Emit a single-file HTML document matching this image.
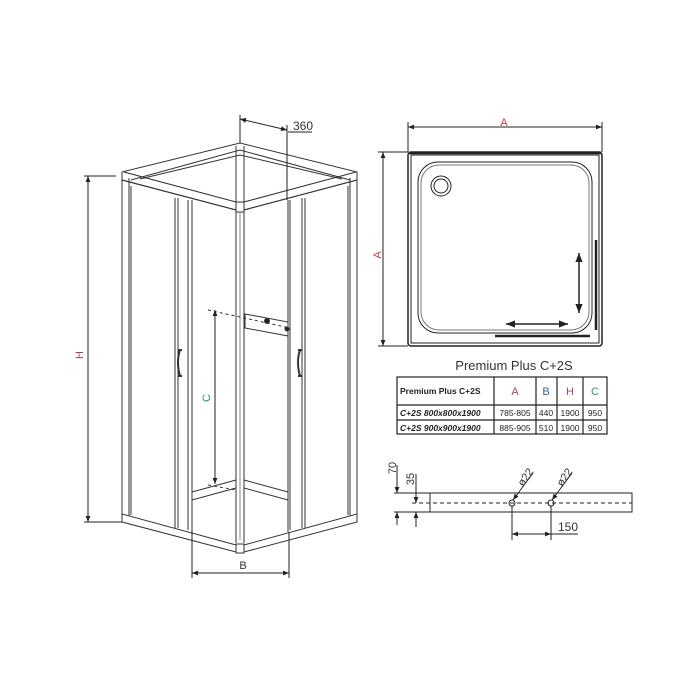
<!DOCTYPE html>
<html><head><meta charset="utf-8"><style>
html,body{margin:0;padding:0;background:#fff;}
svg{display:block;font-family:"Liberation Sans",sans-serif;}
</style></head><body>
<svg width="700" height="700" viewBox="0 0 700 700" xmlns="http://www.w3.org/2000/svg">
<defs>
<marker id="ar" viewBox="0 0 10 10" refX="10" refY="5" markerWidth="8" markerHeight="6" orient="auto-start-reverse"><path d="M0,1 L10,5 L0,9 z" fill="#222"/></marker>
</defs>
<g stroke="#333" stroke-width="1" fill="none">
<!-- top frame -->
<polygon points="240,143 357,172 357,180 240,211 122,180 122,172" fill="#fff"/>
<polyline points="131,180 240,150 350,180"/>
<polyline points="140,179 240,155 342,179"/>
<polyline points="122,180 236,210"/>
<polyline points="357,180 244,210"/>
<polyline points="124,172 236,202"/>
<polyline points="356,172 244,202"/>
<rect x="236" y="202" width="8" height="10" fill="#fff"/>
<!-- posts -->
<line x1="236" y1="146" x2="236" y2="202"/><line x1="244" y1="146" x2="244" y2="202"/>
<line x1="236" y1="212" x2="236" y2="543"/><line x1="244" y1="212" x2="244" y2="543"/><line x1="240" y1="212" x2="240" y2="540" stroke="#888"/>
<!-- left side -->
<line x1="122" y1="174" x2="122" y2="522"/><line x1="129" y1="178" x2="129" y2="520"/><line x1="131" y1="186" x2="131" y2="515"/>
<line x1="175" y1="198" x2="175" y2="528"/><line x1="178" y1="198" x2="178" y2="528"/><line x1="188" y1="200" x2="188" y2="530"/><line x1="192" y1="200" x2="192" y2="532"/>
<!-- right side -->
<line x1="357" y1="173" x2="357" y2="522"/><line x1="350" y1="178" x2="350" y2="520"/><line x1="348" y1="186" x2="348" y2="515"/>
<line x1="305" y1="198" x2="305" y2="528"/><line x1="302" y1="198" x2="302" y2="528"/><line x1="290" y1="200" x2="290" y2="530"/><line x1="288" y1="200" x2="288" y2="532"/>
<!-- base -->
<polygon points="122,514 236,545 244,545 357,514 357,522 244,552 236,552 122,522" fill="#fff"/>
<rect x="236" y="544" width="8" height="9" fill="#fff"/>
<!-- inner back floor -->
<polyline points="192,492 236,480"/><polyline points="192,500 236,488"/>
<polyline points="244,480 288,492"/><polyline points="244,488 288,500"/>
<!-- shelf -->
<polygon points="245,314 288,322 288,336 245,328" fill="#fff"/>
<circle cx="267" cy="321" r="2.5" fill="#222"/><circle cx="287" cy="329" r="2" fill="#222"/>
<line x1="208" y1="310" x2="290" y2="328" stroke-dasharray="3,3"/>
<line x1="208" y1="485" x2="236" y2="490" stroke-dasharray="3,3"/>
<!-- handles -->
<path d="M180,350 q-4,12 0,26" stroke-width="2"/><path d="M178,350 h4 M178,376 h4" stroke-width="2"/>
<path d="M300,350 q-4,12 0,26" stroke-width="2"/><path d="M298,350 h4 M298,376 h4" stroke-width="2"/>
</g>
<!-- dimensions left -->
<g stroke="#222" stroke-width="1" fill="none">
<line x1="84" y1="176" x2="116" y2="176"/><line x1="84" y1="522" x2="122" y2="522"/>
<line x1="88" y1="176" x2="88" y2="522" marker-start="url(#ar)" marker-end="url(#ar)"/>
<line x1="240" y1="115" x2="240" y2="143"/><line x1="287" y1="125" x2="287" y2="200"/>
<line x1="240" y1="119" x2="287" y2="130" marker-start="url(#ar)" marker-end="url(#ar)"/>
<line x1="288" y1="132" x2="312" y2="132"/>
<line x1="192" y1="530" x2="192" y2="578"/><line x1="289" y1="532" x2="289" y2="578"/>
<line x1="192" y1="573" x2="289" y2="573" marker-start="url(#ar)" marker-end="url(#ar)"/>
<line x1="215" y1="310" x2="215" y2="484" marker-start="url(#ar)" marker-end="url(#ar)"/>
</g>
<text x="293" y="130" font-size="12" fill="#333">360</text>
<text x="243" y="569" font-size="11" fill="#333" text-anchor="middle">B</text>
<text x="80" y="358" font-size="11" fill="#a04060" transform="rotate(-90 80 355)" text-anchor="middle">H</text>
<text x="212" y="400" font-size="11" fill="#2a9a5a" transform="rotate(-90 210 400)" text-anchor="middle">C</text>
<!-- top view -->
<g stroke="#222" stroke-width="1" fill="none">
<line x1="408" y1="122" x2="408" y2="152"/><line x1="602" y1="122" x2="602" y2="152"/>
<line x1="408" y1="127" x2="602" y2="127" marker-start="url(#ar)" marker-end="url(#ar)"/>
<line x1="378" y1="152" x2="408" y2="152"/><line x1="378" y1="346" x2="408" y2="346"/>
<line x1="383" y1="152" x2="383" y2="346" marker-start="url(#ar)" marker-end="url(#ar)"/>
<rect x="408" y="152" width="194" height="194" rx="3" stroke-width="1.5"/>
<rect x="411" y="155" width="188" height="188" />
<rect x="418" y="162" width="174" height="171" rx="20"/>
<rect x="421" y="165" width="168" height="165" rx="18" stroke="#777"/>
<circle cx="441" cy="186" r="10"/><circle cx="441" cy="186" r="7"/>
<line x1="409" y1="153" x2="601" y2="153" stroke-width="2.5"/>
<line x1="596" y1="240" x2="596" y2="330" stroke-width="2.5"/>
<line x1="495" y1="336" x2="590" y2="336" stroke-width="2.5"/>
<line x1="579" y1="253" x2="579" y2="313" stroke-width="1.5" marker-start="url(#ar)" marker-end="url(#ar)"/>
<line x1="506" y1="324" x2="568" y2="324" stroke-width="1.5" marker-start="url(#ar)" marker-end="url(#ar)"/>
</g>
<text x="504" y="126" font-size="11" fill="#c04050" text-anchor="middle">A</text>
<text x="384" y="258" font-size="11" fill="#c04050" transform="rotate(-90 381 258)" text-anchor="middle">A</text>
<text x="514" y="370" font-size="13" fill="#333" text-anchor="middle">Premium Plus C+2S</text>
<!-- table -->
<g stroke="#222" stroke-width="1.2" fill="none">
<rect x="397" y="377" width="210" height="57"/>
<line x1="397" y1="405" x2="607" y2="405"/><line x1="397" y1="420" x2="607" y2="420"/>
<line x1="494" y1="377" x2="494" y2="434"/><line x1="536" y1="377" x2="536" y2="434"/>
<line x1="557" y1="377" x2="557" y2="434"/><line x1="583" y1="377" x2="583" y2="434"/>
</g>
<g font-size="8.5" fill="#222">
<text x="400" y="394" font-weight="bold">Premium Plus C+2S</text>
<text x="515" y="395" font-size="11" fill="#c04050" text-anchor="middle">A</text>
<text x="546" y="395" font-size="11" fill="#406080" text-anchor="middle">B</text>
<text x="570" y="395" font-size="11" fill="#a04080" text-anchor="middle">H</text>
<text x="595" y="395" font-size="11" fill="#2a9a6a" text-anchor="middle">C</text>
<text x="400" y="416" font-weight="bold" font-style="italic">C+2S 800x800x1900</text>
<text x="400" y="431" font-weight="bold" font-style="italic">C+2S 900x900x1900</text>
<text x="515" y="416" text-anchor="middle">785-805</text><text x="515" y="431" text-anchor="middle">885-905</text>
<text x="546" y="416" text-anchor="middle">440</text><text x="546" y="431" text-anchor="middle">510</text>
<text x="570" y="416" text-anchor="middle">1900</text><text x="570" y="431" text-anchor="middle">1900</text>
<text x="595" y="416" text-anchor="middle">950</text><text x="595" y="431" text-anchor="middle">950</text>
</g>
<!-- bottom section -->
<g stroke="#222" stroke-width="1" fill="none">
<rect x="430" y="493" width="202" height="19"/>
<line x1="394" y1="493" x2="430" y2="493"/><line x1="394" y1="512" x2="430" y2="512"/>
<line x1="412" y1="503" x2="632" y2="503" stroke-dasharray="4,3"/>
<line x1="397" y1="465" x2="397" y2="493" marker-end="url(#ar)"/>
<line x1="397" y1="525" x2="397" y2="512" marker-end="url(#ar)"/>
<line x1="416" y1="474" x2="416" y2="503" marker-end="url(#ar)"/>
<line x1="416" y1="527" x2="416" y2="512" marker-end="url(#ar)"/>
<circle cx="512" cy="503" r="3"/><circle cx="551" cy="503" r="3"/>
<line x1="512" y1="506" x2="512" y2="540"/><line x1="551" y1="506" x2="551" y2="540"/>
<line x1="512" y1="534" x2="551" y2="534" marker-start="url(#ar)" marker-end="url(#ar)"/>
<line x1="551" y1="534" x2="578" y2="534"/>
<line x1="533" y1="473" x2="513" y2="500" marker-end="url(#ar)"/>
<line x1="572" y1="473" x2="552" y2="500" marker-end="url(#ar)"/>
</g>
<text x="400" y="472" font-size="11" fill="#333" transform="rotate(-90 396 472)" text-anchor="middle">70</text>
<text x="418" y="483" font-size="11" fill="#333" transform="rotate(-90 414 483)" text-anchor="middle">35</text>
<text x="558" y="531" font-size="12" fill="#333">150</text>
<text x="523" y="487" font-size="11" fill="#333" transform="rotate(-55 523 487)">ø22</text>
<text x="562" y="487" font-size="11" fill="#333" transform="rotate(-55 562 487)">ø22</text>
</svg>
</body></html>
